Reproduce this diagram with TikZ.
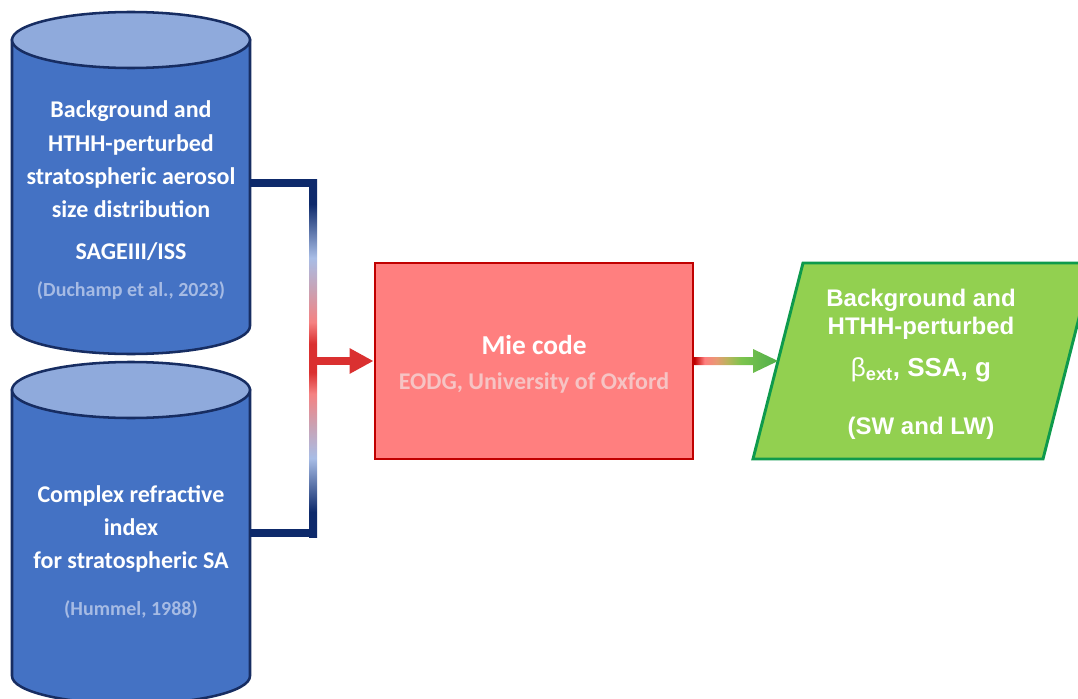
\documentclass[tikz,border=0pt]{standalone}
\usepackage{fontspec}
\setmainfont{Carlito}
\newfontfamily\arialfont{Liberation Sans}
\usetikzlibrary{shapes.geometric,arrows.meta,calc,positioning}

\definecolor{dbfill}{HTML}{4472C4}
\definecolor{dbtop}{HTML}{8FAADC}
\definecolor{dbline}{HTML}{172D62}
\definecolor{dbref}{HTML}{A6BBE4}
\definecolor{miefill}{HTML}{FF7F7F}
\definecolor{mieline}{HTML}{C00000}
\definecolor{eodg}{HTML}{F6C4C4}
\definecolor{outfill}{HTML}{92D050}
\definecolor{outline}{HTML}{0E9A4C}
\definecolor{busnavy}{HTML}{0E2A6B}
\definecolor{buslight}{HTML}{A8BDE6}
\definecolor{busmauve}{HTML}{C9A2B4}
\definecolor{bussalmon}{HTML}{F58282}
\definecolor{busred}{HTML}{DA3030}
\definecolor{arrowtan}{HTML}{E89A74}
\definecolor{arrowolive}{HTML}{B8B45C}
\definecolor{arrowgreen}{HTML}{7CC44E}
\definecolor{arrowdeep}{HTML}{4EAE4A}

\pgfdeclareverticalshading{busshade}{100bp}{color(0bp)=(busnavy); color(28.5bp)=(busnavy);
  color(36bp)=(buslight); color(40.5bp)=(busmauve); color(45bp)=(bussalmon);
  color(48bp)=(busred); color(52bp)=(busred); color(55bp)=(bussalmon);
  color(59.5bp)=(busmauve); color(64bp)=(buslight); color(71.5bp)=(busnavy);
  color(100bp)=(busnavy)}
\pgfdeclarehorizontalshading{outshade}{100bp}{color(0bp)=(mieline); color(25bp)=(mieline);
  color(31bp)=(miefill); color(38bp)=(arrowtan); color(45bp)=(arrowolive);
  color(53bp)=(arrowgreen); color(75bp)=(arrowdeep); color(100bp)=(arrowdeep)}

\begin{document}
\begin{tikzpicture}[x=0.75pt,y=-0.75pt,
  dbbody/.style={rectangle, minimum width=178.5pt, minimum height=214.5pt,
    inner sep=0pt, outer sep=0pt},
  dbshape/.style={draw=dbline, line width=1.9pt, fill=dbfill},
  dbtext/.style={text=white, align=center, font=\bfseries\fontsize{18}{25}\selectfont},
  miebox/.style={rectangle, draw=mieline, fill=miefill, line width=2.2pt,
    minimum width=238.5pt, minimum height=147pt, text=white, align=center,
    font=\bfseries\fontsize{20.5}{26.25}\selectfont},
  outarea/.style={rectangle, minimum width=217.5pt, minimum height=147pt,
    inner sep=0pt, outer sep=0pt},
  outshape/.style={draw=outline, fill=outfill, line width=2.2pt, line join=miter},
  outtext/.style={text=white, align=center,
    font=\arialfont\bfseries\fontsize{18}{21.25}\selectfont},
  busline/.style={draw=busnavy, line width=6pt},
  feedline/.style={draw=busred, line width=6pt}]

\clip (0,0) rectangle (1078,699);

% data bases
\foreach \name/\cy in {db1/183, db2/533}{
  \node[dbbody] (\name) at (131,\cy) {};
  \filldraw[dbshape] (\name.north west) -- (\name.south west)
    arc[start angle=180, end angle=0, x radius=119, y radius=28]
    -- (\name.north east) -- cycle;
  \filldraw[dbshape, fill=dbtop] (\name.north) ellipse[x radius=119, y radius=28];
}
\node[dbtext] (db1txt) at (131,200) {Background and\\HTHH-perturbed\\stratospheric aerosol\\size distribution\\[6pt]SAGEIII/ISS\\[2.75pt]{\color{dbref}\fontsize{15}{25}\selectfont (Duchamp et al., 2023)}};
\node[dbtext] (db2txt) at (131,552) {Complex refractive\\index\\for stratospheric SA\\[10pt]{\color{dbref}\fontsize{15}{25}\selectfont (Hummel, 1988)}};

% mie code
\node[miebox] (mie) at (534,361) {\rule{0pt}{19pt}Mie code\\{\color{eodg}\fontsize{18}{26.25}\selectfont EODG, University of Oxford}};

% output parallelogram
\node[outarea] (out) at (923,361) {};
\filldraw[outshape] ($(out.south west)+(-25,0)$) -- ($(out.north west)+(25,0)$)
  -- ($(out.north east)+(25,0)$) -- ($(out.south east)+(-25,0)$) -- cycle;
\node[outtext] (outtxt) at (921,364) {Background and\\HTHH-perturbed\\[10pt]{\fontsize{19.5}{21.25}\selectfont{\fontseries{m}\selectfont β}\textsubscript{ext}, SSA, g}\\[22.5pt](SW and LW)};

% connectors
\coordinate (bus) at (313,361);
\draw[busline] (db1.east) -- (db1.east -| bus);
\draw[busline] (db2.east) -- (db2.east -| bus);
\shade[shading=busshade] ($(db1.east -| bus)+(-4,-4)$) rectangle ($(db2.east -| bus)+(4,4)$);
\draw[feedline, -{Triangle[length=18pt,width=18pt]}] (bus) -- (mie.west);
\shade[shading=outshade] ($(mie.east)+(0,-4)$) -- ($(out.west)+(-25,-4)$)
  -- ($(out.west)+(-25,-12)$) -- (out.west) -- ($(out.west)+(-25,12)$)
  -- ($(out.west)+(-25,4)$) -- ($(mie.east)+(0,4)$) -- cycle;
\end{tikzpicture}
\end{document}
